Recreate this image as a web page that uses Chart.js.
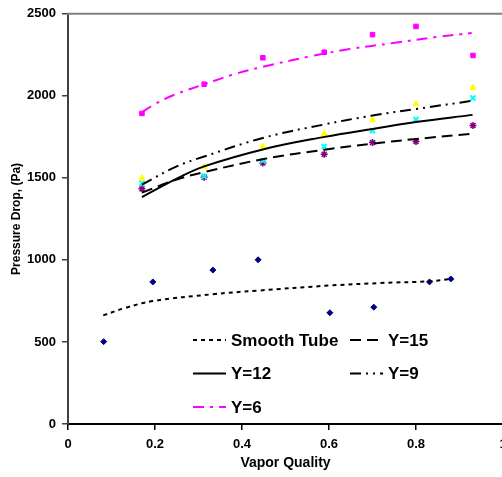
<!DOCTYPE html>
<html>
<head>
<meta charset="utf-8">
<script src="https://cdn.jsdelivr.net/npm/chart.js@4"></script>
<style>
  html, body { margin: 0; padding: 0; background: #fff; overflow: hidden; }
  canvas { display: block; }
</style>
</head>
<body>
<canvas id="chart" width="520" height="477"></canvas>
<script>
// measured points (marker series)
const smoothX = [0.082, 0.195, 0.333, 0.437, 0.602, 0.703, 0.831, 0.88];
const smoothPts = [502, 866, 938, 1001, 678, 712, 866, 884];

const finX = [0.17, 0.313, 0.448, 0.589, 0.70, 0.80, 0.931];
const y6Pts = [1893, 2071, 2232, 2266, 2373, 2423, 2246];
const y9Pts = [1498, 1567, 1691, 1769, 1852, 1950, 2051];
const y12Pts = [1467, 1510, 1605, 1691, 1787, 1856, 1987];
const y15Pts = [1433, 1504, 1590, 1644, 1715, 1721, 1819];

// trend lines
const smoothFitX = [0.081, 0.13, 0.195, 0.333, 0.437, 0.602, 0.717, 0.831, 0.878];
const smoothFit = [662, 706, 749, 791, 813, 844, 859, 870, 883];

const finFitX = [0.17, 0.25, 0.313, 0.45, 0.59, 0.70, 0.80, 0.93];
const fit9 = [1459, 1570, 1630, 1745, 1826, 1880, 1920, 1970];
const fit12 = [1383, 1495, 1570, 1675, 1750, 1798, 1840, 1884];
const fit15 = [1410, 1490, 1535, 1615, 1672, 1709, 1737, 1769];

const y6FitX = [0.17, 0.2, 0.246, 0.313, 0.38, 0.448, 0.556, 0.648, 0.748, 0.847, 0.928];
const fit6 = [1900, 1950, 2008, 2070, 2130, 2177, 2240, 2285, 2322, 2358, 2383];

const xTicks = [0, 0.2, 0.4, 0.6, 0.8, 1];

function pts(xs, ys) {
    return xs.map((x, i) => ({ x: x, y: ys[i] }));
}

function marker(xs, ys, style, color, r, bw) {
    return {
        data: pts(xs, ys), showLine: false, pointStyle: style,
        pointRadius: r, backgroundColor: color, borderColor: color, borderWidth: bw
    };
}

function fit(label, xs, ys, color, dash) {
    return {
        label: label, data: pts(xs, ys), showLine: true, pointRadius: 0,
        borderColor: color, borderWidth: 2, borderDash: dash,
        tension: 0.4, fill: false
    };
}

const legendItems = [
    { text: "Smooth Tube", color: "#000", dash: [4, 4], col: 0, row: 0 },
    { text: "Y=15", color: "#000", dash: [11, 6], col: 1, row: 0 },
    { text: "Y=12", color: "#000", dash: [], col: 0, row: 1 },
    { text: "Y=9", color: "#000", dash: [11, 5, 2, 5, 2, 5], col: 1, row: 1 },
    { text: "Y=6", color: "#ff00ff", dash: [11, 6, 3, 6], col: 0, row: 2 }
];

const extras = {
    id: "extras",
    afterDatasetsDraw(chart) {
        const ctx = chart.ctx;
        const a = chart.chartArea;
        ctx.save();
        // top frame line
        ctx.strokeStyle = "#808080";
        ctx.lineWidth = 2;
        ctx.beginPath();
        ctx.moveTo(a.left - 1, a.top);
        ctx.lineTo(a.right + 10, a.top);
        ctx.stroke();

        // legend inside plot
        ctx.font = "bold 17px 'Liberation Sans', Arial, sans-serif";
        ctx.textBaseline = "middle";
        legendItems.forEach(it => {
            const x0 = it.col === 0 ? 193 : 350;
            const y = 340 + it.row * 33.5;
            ctx.strokeStyle = it.color;
            ctx.lineWidth = 2;
            ctx.setLineDash(it.dash);
            ctx.beginPath();
            ctx.moveTo(x0, y);
            ctx.lineTo(x0 + 33, y);
            ctx.stroke();
            ctx.setLineDash([]);
            ctx.fillStyle = "#000";
            ctx.fillText(it.text, x0 + 38, y + 1);
        });
        ctx.restore();
    }
};

const tickFont = { family: "'Liberation Sans', Arial, sans-serif", size: 13, weight: "bold" };

new Chart(document.getElementById("chart"), {
    type: "scatter",
    data: {
        datasets: [
            fit("Smooth Tube", smoothFitX, smoothFit, "#000", [4, 4]),
            fit("Y=15", finFitX, fit15, "#000", [11, 6]),
            fit("Y=12", finFitX, fit12, "#000", []),
            fit("Y=9", finFitX, fit9, "#000", [11, 5, 2, 5, 2, 5]),
            fit("Y=6", y6FitX, fit6, "#ff00ff", [11, 6, 3, 6]),
            marker(smoothX, smoothPts, "rectRot", "#000080", 3, 1),
            marker(finX, y6Pts, "rect", "#ff00ff", 3.2, 1),
            marker(finX, y9Pts, "triangle", "#ffff00", 3.5, 1),
            marker(finX, y12Pts, "crossRot", "#00ffff", 3.5, 2),
            marker(finX, y15Pts, "star", "#800080", 3.5, 1.5)
        ]
    },
    options: {
        responsive: false,
        animation: false,
        layout: { padding: { top: 10, right: 17, left: 0, bottom: 0 } },
        plugins: { legend: { display: false }, tooltip: { enabled: false } },
        scales: {
            x: {
                type: "linear", min: 0, max: 1,
                afterBuildTicks: s => { s.ticks = xTicks.map(v => ({ value: v })); },
                afterFit: s => { s.height = 53; },
                grid: { drawOnChartArea: false, drawTicks: true, tickLength: 6, color: "#000", lineWidth: 1.5 },
                border: { color: "#000", width: 2 },
                ticks: { color: "#000", font: tickFont, padding: 7, maxRotation: 0,
                         callback: v => String(v) },
                title: { display: true, text: "Vapor Quality", color: "#000",
                         font: { family: "'Liberation Sans', Arial, sans-serif", size: 14, weight: "bold" },
                         padding: { top: 0, bottom: 5 } }
            },
            y: {
                min: 0, max: 2500,
                ticks: { stepSize: 500, color: "#000", font: tickFont, padding: 6,
                         callback: v => String(v) },
                afterFit: s => { s.width = 68; },
                grid: { drawOnChartArea: false, drawTicks: true, tickLength: 6, color: "#404040", lineWidth: 1.5 },
                border: { color: "#404040", width: 2 },
                title: { display: true, text: "Pressure Drop, (Pa)", color: "#000",
                         font: { family: "'Liberation Sans', Arial, sans-serif", size: 12, weight: "bold" },
                         padding: { top: 9, bottom: 0 } }
            }
        }
    },
    plugins: [extras]
});
</script>
</body>
</html>
